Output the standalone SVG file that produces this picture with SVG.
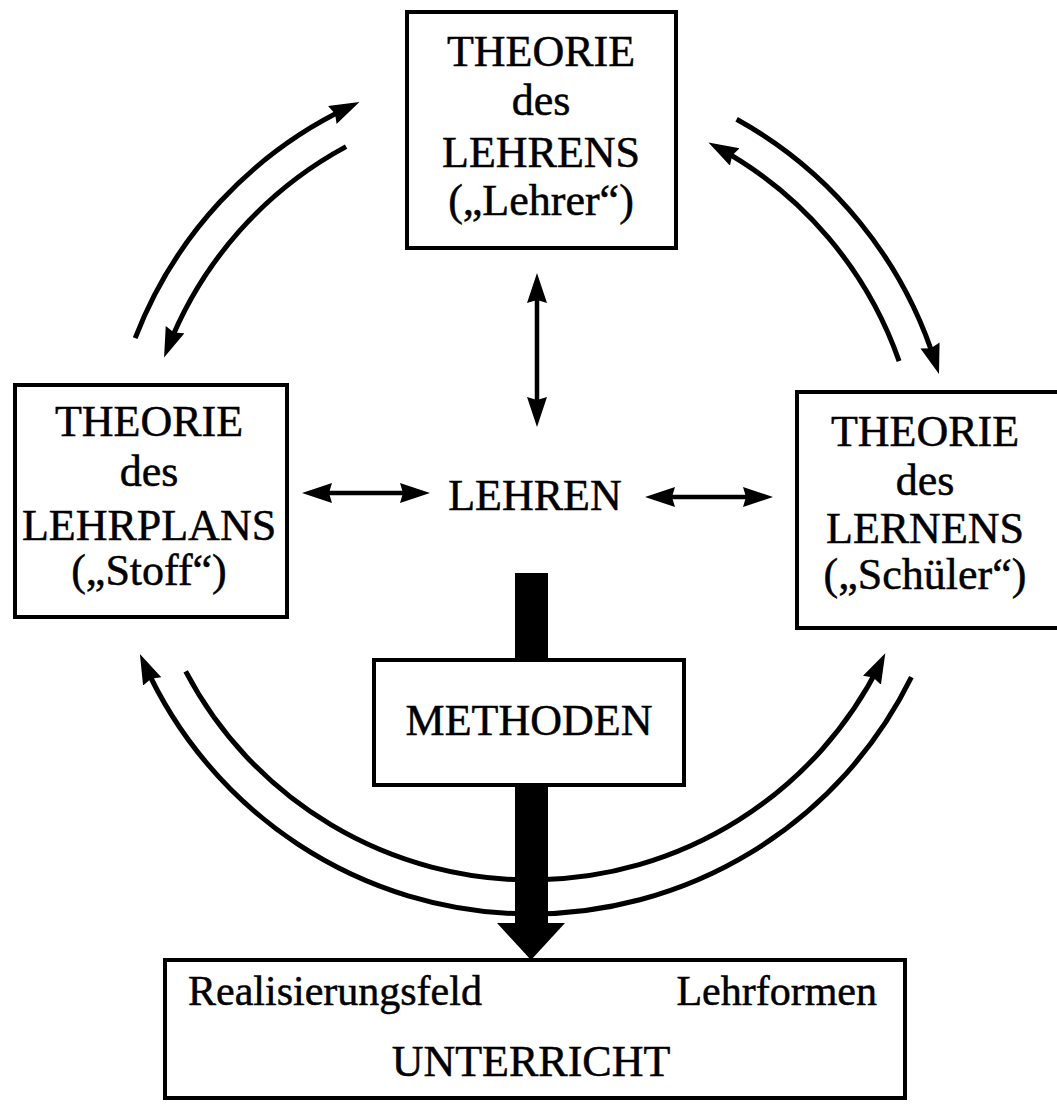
<svg xmlns="http://www.w3.org/2000/svg" width="1057" height="1104" viewBox="0 0 1057 1104">
<style>
  .box { fill: #fff; stroke: #000; stroke-width: 4; }
  .t { font-family: "Liberation Serif", "Times New Roman", serif; font-size: 44px; fill: #000; stroke: #000; stroke-width: 0.5; text-anchor: middle; }
  .s { font-family: "Liberation Serif", "Times New Roman", serif; font-size: 42px; fill: #000; stroke: #000; stroke-width: 0.5; }
  .arc { fill: none; stroke: #000; stroke-width: 5; }
  .dbl { fill: none; stroke: #000; stroke-width: 4.5; }
</style>
<defs>
  <marker id="ah" markerUnits="userSpaceOnUse" markerWidth="32" markerHeight="22" refX="19" refY="10" orient="auto-start-reverse">
    <path d="M0,0 L30,10 L0,20 L3,10 z" fill="#000"/>
  </marker>
</defs>
<rect width="1057" height="1104" fill="#fff"/>

<g id="connectors">
  <!-- thick arrow LEHREN -> UNTERRICHT -->
  <rect x="515" y="573" width="33" height="352" fill="#000"/>
  <polygon points="497,923 565,923 531,960" fill="#000"/>
  <!-- outer circle (clockwise) -->
  <path class="arc" d="M135.2,338.1 A424,424 0 0 1 349.5,106.8" marker-end="url(#ah)"/>
  <path class="arc" d="M736.6,119.2 A424,424 0 0 1 935.7,363.6" marker-end="url(#ah)"/>
  <path class="arc" d="M911.4,677.2 A424,424 0 0 1 144.4,664.1" marker-end="url(#ah)"/>
  <!-- inner circle (counter-clockwise) -->
  <path class="arc" d="M346.1,146.6 A390,390 0 0 0 168.1,347.3" marker-end="url(#ah)"/>
  <path class="arc" d="M899.1,361.1 A390,390 0 0 0 718.1,147.8" marker-end="url(#ah)"/>
  <path class="arc" d="M185.7,671.3 A390,390 0 0 0 880.4,663.2" marker-end="url(#ah)"/>
  <!-- double arrows around LEHREN -->
  <path class="dbl" d="M537,284 L537,416" marker-start="url(#ah)" marker-end="url(#ah)"/>
  <path class="dbl" d="M313,493 L419,493" marker-start="url(#ah)" marker-end="url(#ah)"/>
  <path class="dbl" d="M656,497 L762,497" marker-start="url(#ah)" marker-end="url(#ah)"/>
</g>

<g id="node-lehrer">
  <rect class="box" x="407" y="12" width="269" height="236"/>
  <text class="t" x="541" y="66">THEORIE</text>
  <text class="t" x="541" y="115">des</text>
  <text class="t" x="541" y="167">LEHRENS</text>
  <text class="t" x="541" y="215">(„Lehrer“)</text>
</g>

<g id="node-stoff">
  <rect class="box" x="15" y="385" width="272" height="232"/>
  <text class="t" x="149" y="436">THEORIE</text>
  <text class="t" x="149" y="486">des</text>
  <text class="t" x="149" y="540">LEHRPLANS</text>
  <text class="t" x="149" y="585">(„Stoff“)</text>
</g>

<g id="node-schueler">
  <rect class="box" x="797" y="392" width="280" height="236"/>
  <text class="t" x="925" y="446">THEORIE</text>
  <text class="t" x="925" y="495">des</text>
  <text class="t" x="925" y="543">LERNENS</text>
  <text class="t" x="925" y="589">(„Schüler“)</text>
</g>

<g id="node-lehren">
  <text class="t" x="535" y="510">LEHREN</text>
</g>

<g id="node-methoden">
  <rect class="box" x="374" y="660" width="310" height="125"/>
  <text class="t" x="529" y="735">METHODEN</text>
</g>

<g id="node-unterricht">
  <rect class="box" x="165" y="960" width="740" height="138"/>
  <text class="s" x="188" y="1005">Realisierungsfeld</text>
  <text class="s" x="877" y="1005" text-anchor="end">Lehrformen</text>
  <text class="t" x="531" y="1076">UNTERRICHT</text>
</g>
</svg>
